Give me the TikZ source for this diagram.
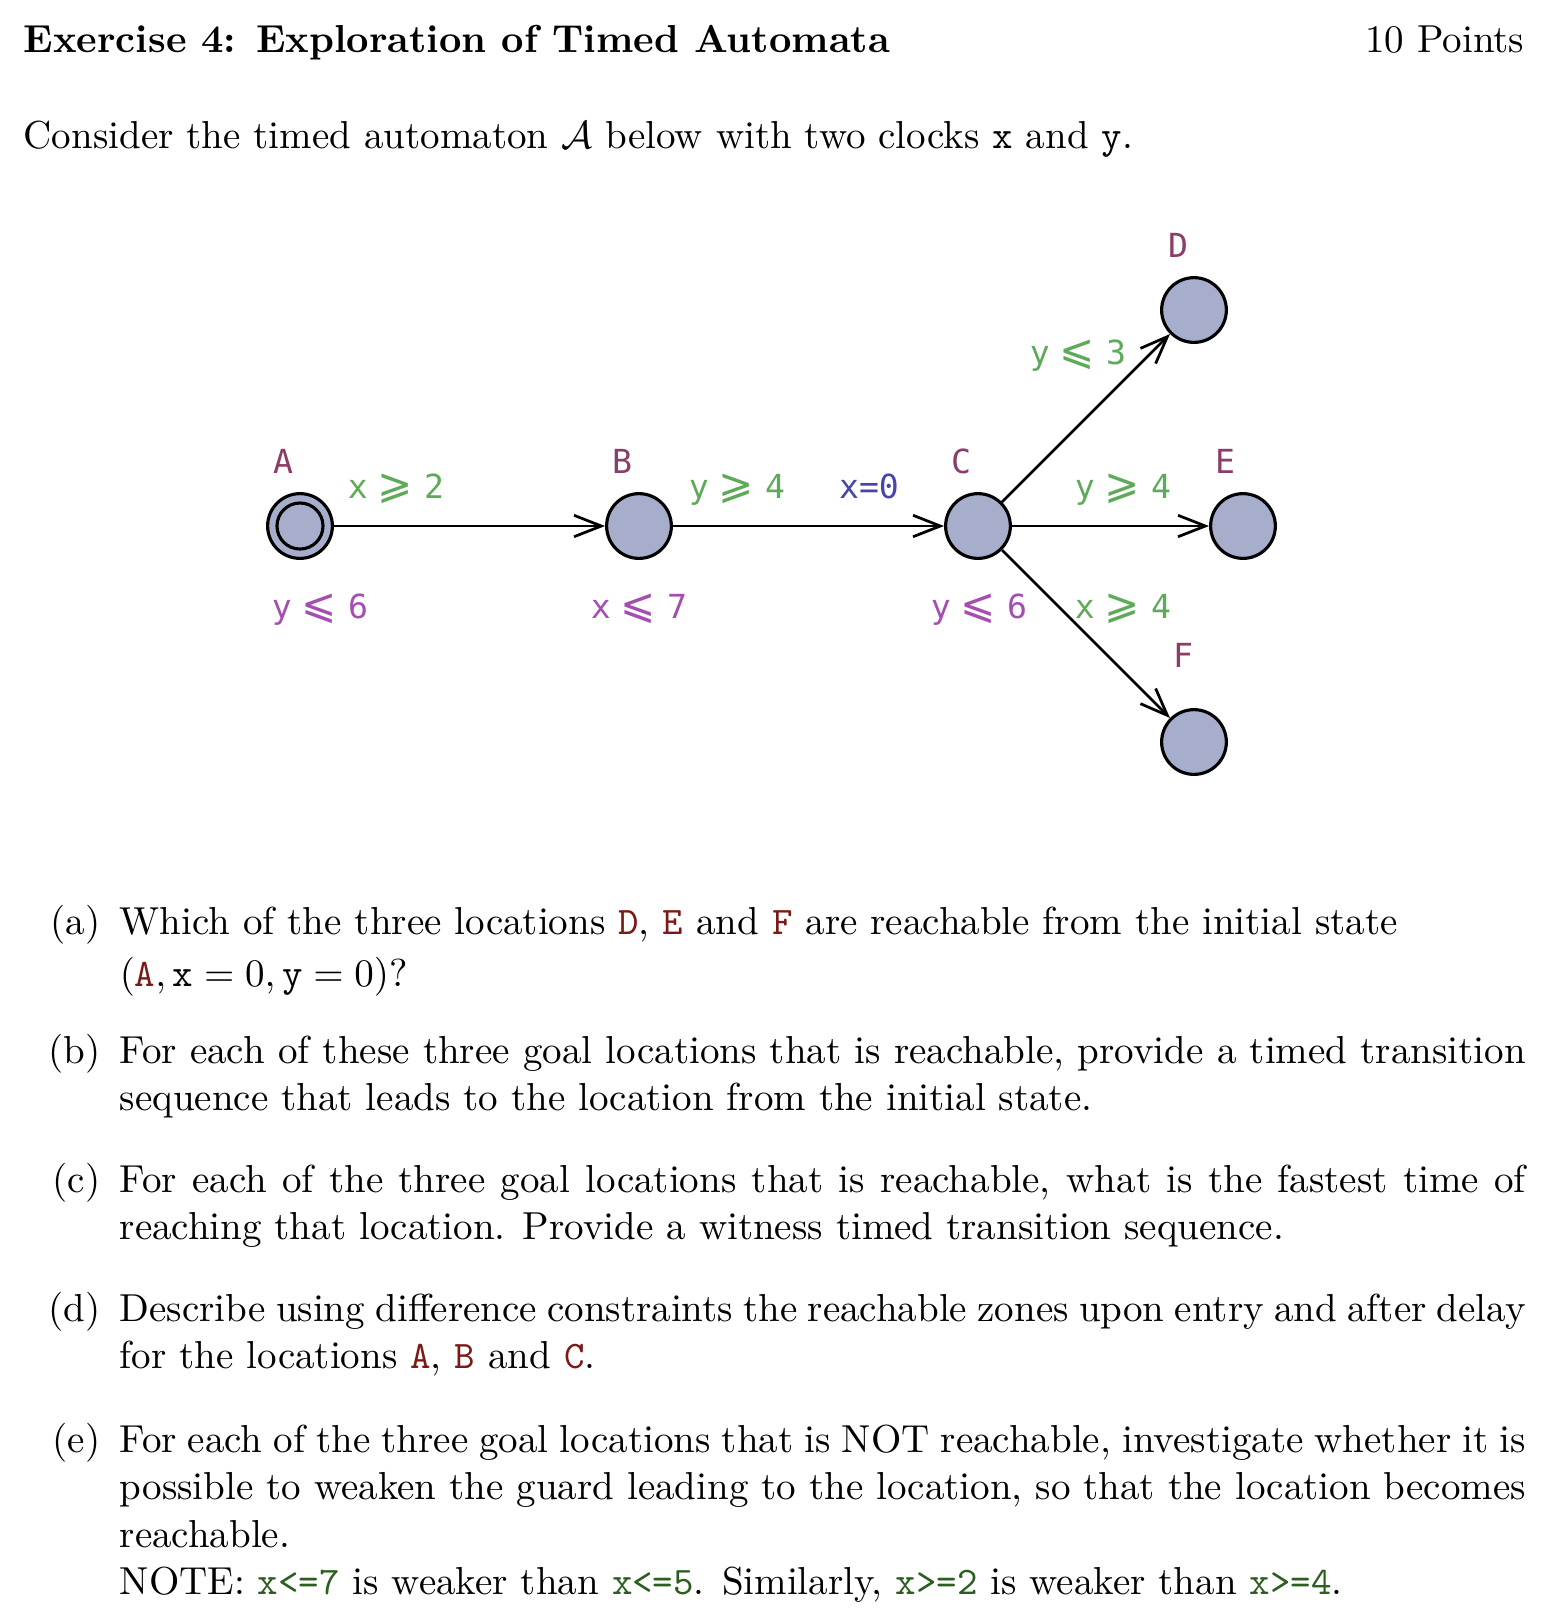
\documentclass[tikz,border=0pt]{standalone}
\usepackage{fontspec}
\usetikzlibrary{arrows.meta}

\newfontfamily\tafont{DejaVu Sans Mono}
\newfontfamily\tasymfont{DejaVu Sans}
\newcommand\tle{\hspace{2.5pt}{\tasymfont\fontsize{10.8pt}{12pt}\selectfont ⩽}\hspace{2.9pt}}
\newcommand\tge{\hspace{2.5pt}{\tasymfont\fontsize{10.8pt}{12pt}\selectfont ⩾}\hspace{2.9pt}}

\definecolor{namecol}{HTML}{8A3D68}
\definecolor{guardcol}{HTML}{5DAA58}
\definecolor{invcol}{HTML}{A54DB1}
\definecolor{assigncol}{HTML}{4545AA}
\definecolor{locfill}{HTML}{A7AECB}
\definecolor{refcol}{HTML}{7A1A16}
\definecolor{codecol}{HTML}{2B5E1F}

\newcommand\locref[1]{\textcolor{refcol}{\texttt{#1}}}
\newcommand\code[1]{\textcolor{codecol}{\texttt{#1}}}

\tikzset{
  loc/.style={circle, draw, line width=0.8pt, fill=locfill, minimum size=16.6pt, inner sep=0pt},
  edge/.style={line width=0.7pt, -{Straight Barb[length=7pt, width=5.5pt, line width=0.7pt]}},
  talabel/.style={font=\tafont\fontsize{8.5pt}{10pt}\selectfont, anchor=base, inner sep=0pt},
  locname/.style={talabel, text=namecol},
  guard/.style={talabel, text=guardcol},
  inv/.style={talabel, text=invcol},
  assign/.style={talabel, text=assigncol},
  para/.style={anchor=base west, inner sep=0pt},
  itemlabel/.style={anchor=base east, inner sep=0pt}
}

\begin{document}
\begin{tikzpicture}[x=0.2564pt, y=-0.2564pt]
  \useasboundingbox (0,0) rectangle (1546,1622);

  % Header
  \node[para] (title) at (23,52) {\bfseries Exercise 4: Exploration of Timed Automata};
  \node[itemlabel] (points) at (1525,52) {10 Points};
  \node[para] (intro) at (23,148) {Consider the timed automaton $\mathcal{A}$ below with two clocks \texttt{x} and \texttt{y}.};

  % Automaton: locations
  \node[loc] (A) at (300,526) {};
  \node[loc, fill=none, minimum size=11.8pt] (A-init) at (A) {};
  \node[loc] (B) at (639,526) {};
  \node[loc] (C) at (978,526) {};
  \node[loc] (D) at (1194,310) {};
  \node[loc] (E) at (1243,526) {};
  \node[loc] (F) at (1194,742) {};

  % Automaton: edges
  \draw[edge] (A) -- (B);
  \draw[edge] (B) -- (C);
  \draw[edge] (C) -- (D);
  \draw[edge] (C) -- (E);
  \draw[edge] (C) -- (F);

  % Names
  \node[locname] (nameA) at (283,473) {A};
  \node[locname] (nameB) at (622,473) {B};
  \node[locname] (nameC) at (961,473) {C};
  \node[locname] (nameD) at (1178,257) {D};
  \node[locname] (nameE) at (1225,473) {E};
  \node[locname] (nameF) at (1183,667) {F};

  % Invariants
  \node[inv] (invA) at (320,618) {y\tle 6};
  \node[inv] (invB) at (639,618) {x\tle 7};
  \node[inv] (invC) at (979,618) {y\tle 6};

  % Guards and update
  \node[guard] (gAB) at (396,498) {x\tge 2};
  \node[guard] (gBC) at (737,498) {y\tge 4};
  \node[assign] (uBC) at (869,498) {x=0};
  \node[guard] (gCD) at (1078,364) {y\tle 3};
  \node[guard] (gCE) at (1123,498) {y\tge 4};
  \node[guard] (gCF) at (1123,618) {x\tge 4};

  % Questions
  \node[itemlabel] (la) at (101,934) {(a)};
  \node[para] (qa) at (119,934) {\parbox[t]{360.5pt}{\fontsize{10pt}{12.2pt}\selectfont
    Which of the three locations \locref{D}, \locref{E} and \locref{F} are reachable from the initial state\\[1.2pt]
    $(\locref{A}, \texttt{x} = 0, \texttt{y} = 0)$?}};
  \node[itemlabel] (lb) at (101,1063) {(b)};
  \node[para] (qb) at (119,1063) {\parbox[t]{360.5pt}{\fontsize{10pt}{12.2pt}\selectfont
    For each of these three goal locations that is reachable, provide a timed transition\linebreak
    sequence that leads to the location from the initial state.}};
  \node[itemlabel] (lc) at (101,1192) {(c)};
  \node[para] (qc) at (119,1192) {\parbox[t]{360.5pt}{\fontsize{10pt}{12.2pt}\selectfont
    For each of the three goal locations that is reachable, what is the fastest time of\linebreak
    reaching that location. Provide a witness timed transition sequence.}};
  \node[itemlabel] (ld) at (101,1321) {(d)};
  \node[para] (qd) at (119,1321) {\parbox[t]{360.5pt}{\fontsize{10pt}{12.2pt}\selectfont
    Describe using difference constraints the reachable zones upon entry and after delay\linebreak
    for the locations \locref{A}, \locref{B} and \locref{C}.}};
  \node[itemlabel] (le) at (101,1452) {(e)};
  \node[para] (qe) at (119,1452) {\parbox[t]{360.5pt}{\fontsize{10pt}{12.2pt}\selectfont
    For each of the three goal locations that is NOT reachable, investigate whether it is\linebreak
    possible to weaken the guard leading to the location, so that the location becomes\linebreak
    reachable.\newline
    NOTE: \code{x<=7} is weaker than \code{x<=5}. Similarly, \code{x>=2} is weaker than \code{x>=4}.}};
\end{tikzpicture}
\end{document}
